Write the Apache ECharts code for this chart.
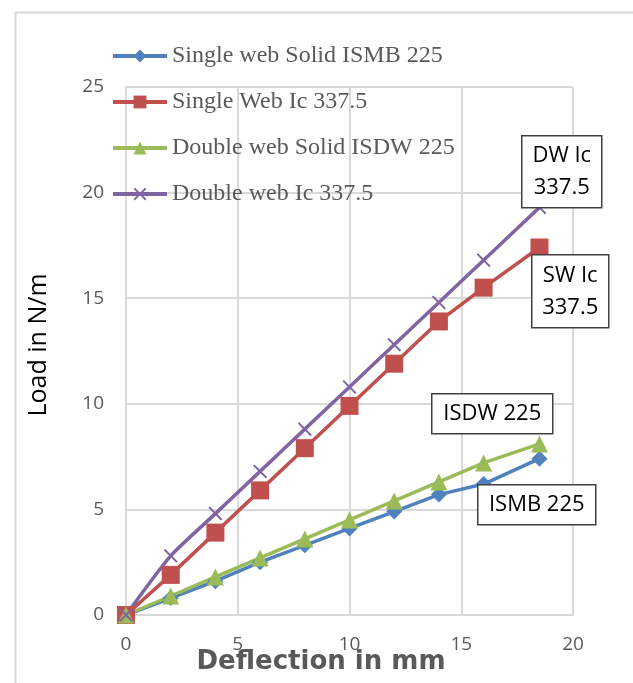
<!DOCTYPE html>
<html>
<head>
<meta charset="utf-8">
<script src="https://cdn.jsdelivr.net/npm/echarts@6/dist/echarts.min.js"></script>
<style>
  html, body { margin: 0; padding: 0; background: #fff; }
  #main { width: 633px; height: 683px; }
</style>
</head>
<body>
<div id="main"></div>
<script>
// deflection (mm)
var deflection = [0, 2, 4, 6, 8, 10, 12, 14, 16, 18.5];
// load (N/m)
var ismb225 = [0, 0.8, 1.6, 2.5, 3.3, 4.1, 4.9, 5.7, 6.2, 7.4];
var swIc = [0, 1.9, 3.9, 5.9, 7.9, 9.9, 11.9, 13.9, 15.5, 17.4];
var isdw225 = [0, 0.9, 1.8, 2.7, 3.6, 4.5, 5.4, 6.3, 7.2, 8.1];
var dwIc = [0, 2.8, 4.8, 6.8, 8.8, 10.8, 12.8, 14.8, 16.8, 19.3];

var seriesNames = ['Single web Solid ISMB 225', 'Single Web Ic 337.5', 'Double web Solid ISDW 225', 'Double web Ic 337.5'];
var xTicks = [0, 5, 10, 15, 20];
var yTicks = [0, 5, 10, 15, 20, 25];
var boxLabels = ['DW Ic\n337.5', 'SW Ic\n337.5', 'ISDW 225', 'ISMB 225'];

function pairs(ys) {
  return deflection.map(function (x, i) { return [x, ys[i]]; });
}

var crossPath = 'path://M0,1 L1,0 L5,4 L9,0 L10,1 L6,5 L10,9 L9,10 L5,6 L1,10 L0,9 L4,5 Z';

// text box drawn on top of the plot
function boxGraphic(txt, x, y, w, h) {
  return {
    type: 'group',
    left: x, top: y, z: 100,
    children: [
      { type: 'rect', z: 100, shape: { x: 0, y: 0, width: w, height: h },
        style: { fill: '#fff', stroke: '#404040', lineWidth: 1.5 } },
      { type: 'text', z: 101, x: w / 2, y: h / 2,
        style: { text: txt, fill: '#000', font: '22px "Open Sans"', align: 'center', verticalAlign: 'middle', lineHeight: 32 } }
    ]
  };
}

var myChart = echarts.init(document.getElementById('main'));

var option = {
  animation: false,
  backgroundColor: '#fff',
  grid: { left: 126, right: 60, top: 87, bottom: 68 },
  legend: {
    orient: 'vertical',
    left: 111, top: 44,
    padding: 0,
    itemWidth: 54, itemHeight: 16, itemGap: 22,
    lineStyle: { width: 4 },
    textStyle: { fontFamily: 'Liberation Serif', fontSize: 24, color: '#595959', lineHeight: 24 },
    data: seriesNames
  },
  xAxis: {
    type: 'value',
    min: 0, max: 20, interval: 5,
    axisLine: { show: true, lineStyle: { color: '#d9d9d9', width: 2 } },
    axisTick: { show: false },
    splitLine: { show: true, lineStyle: { color: '#d9d9d9', width: 2 } },
    axisLabel: { margin: 20, fontFamily: 'Open Sans', fontSize: 19, color: '#595959',
      formatter: function (v) { return xTicks.indexOf(v) >= 0 ? v : ''; } }
  },
  yAxis: {
    type: 'value',
    min: 0, max: 25, interval: 5,
    name: 'Load in N/m',
    nameLocation: 'middle',
    nameGap: 75,
    nameTextStyle: { fontFamily: 'Open Sans', fontSize: 25, color: '#000', padding: [0, 0, 0, 12] },
    axisLine: { show: true, lineStyle: { color: '#d9d9d9', width: 2 } },
    axisTick: { show: false },
    splitLine: { show: true, lineStyle: { color: '#d9d9d9', width: 2 } },
    axisLabel: { margin: 22, fontFamily: 'Open Sans', fontSize: 19, color: '#595959',
      formatter: function (v) { return yTicks.indexOf(v) >= 0 ? v : ''; } }
  },
  graphic: [
    { type: 'rect', left: 13, top: 10, shape: { width: 619, height: 690 },
      style: { fill: 'none', stroke: '#d9d9d9', lineWidth: 2 }, silent: true, z: -10 },
    { type: 'text', x: 321, y: 662, z: 100,
      style: { text: 'Deflection in mm', font: 'bold 26px "DejaVu Sans"', fill: '#595959', align: 'center', verticalAlign: 'middle' } },
    boxGraphic(boxLabels[0], 521, 135, 80, 72),
    boxGraphic(boxLabels[1], 531, 254, 77, 73),
    boxGraphic(boxLabels[2], 431, 393, 121, 40),
    boxGraphic(boxLabels[3], 477, 484, 118, 40)
  ],
  series: [
    { name: seriesNames[0], type: 'line', data: pairs(ismb225),
      symbol: 'diamond', symbolSize: 16,
      lineStyle: { color: '#4f81bd', width: 3.5 }, itemStyle: { color: '#4f81bd' } },
    { name: seriesNames[1], type: 'line', data: pairs(swIc),
      symbol: 'rect', symbolSize: 18,
      lineStyle: { color: '#c0504d', width: 3.5 }, itemStyle: { color: '#c0504d' } },
    { name: seriesNames[2], type: 'line', data: pairs(isdw225),
      symbol: 'triangle', symbolSize: 17,
      lineStyle: { color: '#9bbb59', width: 3.5 }, itemStyle: { color: '#9bbb59' } },
    { name: seriesNames[3], type: 'line', data: pairs(dwIc),
      symbol: crossPath, symbolSize: 14, smooth: 0.2,
      lineStyle: { color: '#8064a2', width: 3.5 }, itemStyle: { color: '#8064a2' } }
  ]
};

myChart.setOption(option);
</script>
</body>
</html>
